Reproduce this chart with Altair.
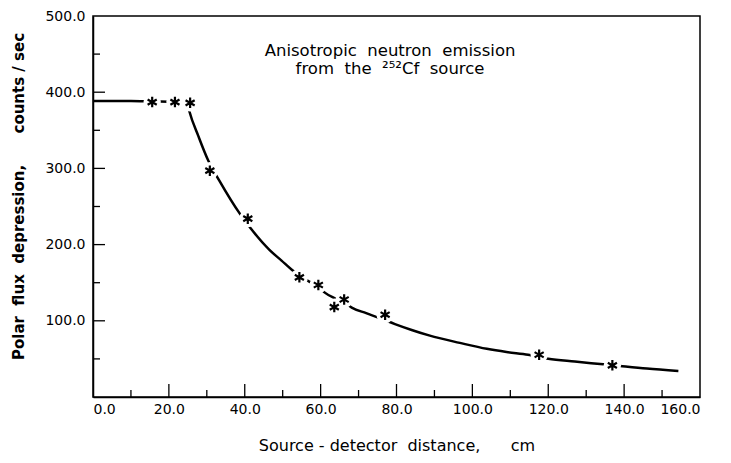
import altair as alt
import pandas as pd

# fitted curve
curve_x = [0, 10, 15.6, 21.6, 24.8, 25.4, 27.8, 30.4, 33.3, 38.7, 41.6, 46.5, 49.7, 52.4,
           54.4, 57.0, 59.4, 61.1, 63.8, 66.2, 68.2, 72.0, 75.6, 79.6, 84.0, 88.8, 96.7,
           103.8, 109.0, 114.7, 120.0, 127.0, 134.5, 138.9, 146.0, 154.3]
curve_y = [388.5, 388.5, 388.0, 387.5, 387.0, 375, 342, 310, 284, 240.6, 221, 193, 179, 167,
           159.5, 151.5, 145, 137, 129.5, 124, 117.3, 110, 103.5, 95.7, 88, 80.5, 71,
           63.2, 59, 55.4, 50.2, 46.5, 42.9, 40.7, 37.3, 34.2]

# measured points
star_x = [15.6, 21.6, 25.6, 30.8, 40.8, 54.4, 59.4, 63.6, 66.2, 77.0, 117.6, 136.9]
star_y = [387, 387, 386, 297, 234, 157, 147, 118, 128, 108, 55.4, 41.6]

x_labels = [0, 20, 40, 60, 80, 100, 120, 140, 160]
y_labels = [100, 200, 300, 400, 500]
x_major = [20, 40, 60, 80, 100, 120, 140]
x_minor = [10, 30, 50, 70, 90, 110, 130, 150]
y_major = [100, 200, 300, 400]
y_minor = [50, 150, 250, 350, 450]

ann_lines = ["Anisotropic\u00a0 neutron\u00a0 emission", "from\u00a0 the\u00a0 \u00b2\u2075\u00b2Cf\u00a0 source"]
ann_x = [78.3, 78.3]
ann_y = [454, 430]

W, H = 607, 381
FONT = "DejaVu Sans"
ASTERISK = "M0,-1L0,1M-0.87,-0.5L0.87,0.5M-0.87,0.5L0.87,-0.5"

curve_df = pd.DataFrame({"x": curve_x, "y": curve_y})
star_df = pd.DataFrame({"x": star_x, "y": star_y})
ann_df = pd.DataFrame({"x": ann_x, "y": ann_y, "t": ann_lines})

xs = alt.Scale(domain=[0, 160], nice=False, zero=False)
ys = alt.Scale(domain=[0, 500], nice=False, zero=False)

x_axis = alt.Axis(values=x_labels, format=".1f", ticks=False, grid=False,
                  labelPadding=5, title="Source\u00a0-\u00a0detector\u00a0 distance,\u00a0\u00a0\u00a0\u00a0\u00a0 cm",
                  titleFontSize=16, titleFontWeight="normal", titleY=48, titleBaseline="middle")
y_axis = alt.Axis(values=y_labels, format=".1f", ticks=False, grid=False,
                  labelPadding=8,
                  title="Polar\u00a0 flux\u00a0 depression,\u00a0\u00a0\u00a0\u00a0\u00a0 counts / sec",
                  titleFontSize=15, titleFontWeight="bold", titleX=-75, titleY=180,
                  titleBaseline="middle", titleAlign="center", titleAngle=270)

curve = alt.Chart(curve_df).mark_line(color="black", strokeWidth=2.5, interpolate="monotone").encode(
    x=alt.X("x:Q", scale=xs, axis=x_axis),
    y=alt.Y("y:Q", scale=ys, axis=y_axis),
)

halo = alt.Chart(star_df).mark_point(shape="circle", filled=True, color="white", opacity=1,
                                     size=300, strokeWidth=0).encode(
    x=alt.X("x:Q", scale=xs), y=alt.Y("y:Q", scale=ys))

stars = alt.Chart(star_df).mark_point(shape=ASTERISK, filled=False, color="black", opacity=1,
                                      size=110, strokeWidth=2.2).encode(
    x=alt.X("x:Q", scale=xs), y=alt.Y("y:Q", scale=ys))

def xticks(vals, length):
    return alt.Chart(pd.DataFrame({"x": vals})).mark_rule(color="black", strokeWidth=1.3).encode(
        x=alt.X("x:Q", scale=xs), y=alt.value(H), y2=alt.value(H - length))

def yticks(vals, length):
    return alt.Chart(pd.DataFrame({"y": vals})).mark_rule(color="black", strokeWidth=1.3).encode(
        y=alt.Y("y:Q", scale=ys), x=alt.value(0), x2=alt.value(length))

ann = alt.Chart(ann_df).mark_text(font=FONT, fontSize=16.5, color="black", align="center",
                                  baseline="middle").encode(
    x=alt.X("x:Q", scale=xs), y=alt.Y("y:Q", scale=ys), text="t:N")

chart = alt.layer(curve, halo, stars,
                  xticks(x_major, 13), xticks(x_minor, 7),
                  yticks(y_major, 12), yticks(y_minor, 7), ann).properties(
    width=W, height=H,
    autosize=alt.AutoSizeParams(type="none"),
    padding={"left": 85, "top": 8, "right": 23, "bottom": 58},
).configure_axis(
    domainColor="black", domainWidth=1.5, labelFont=FONT, labelFontSize=14,
    labelColor="black", titleFont=FONT, titleColor="black",
).configure_view(stroke="black", strokeWidth=1.5)

chart.save("out.html", embed_options={"renderer": "svg", "actions": False})
